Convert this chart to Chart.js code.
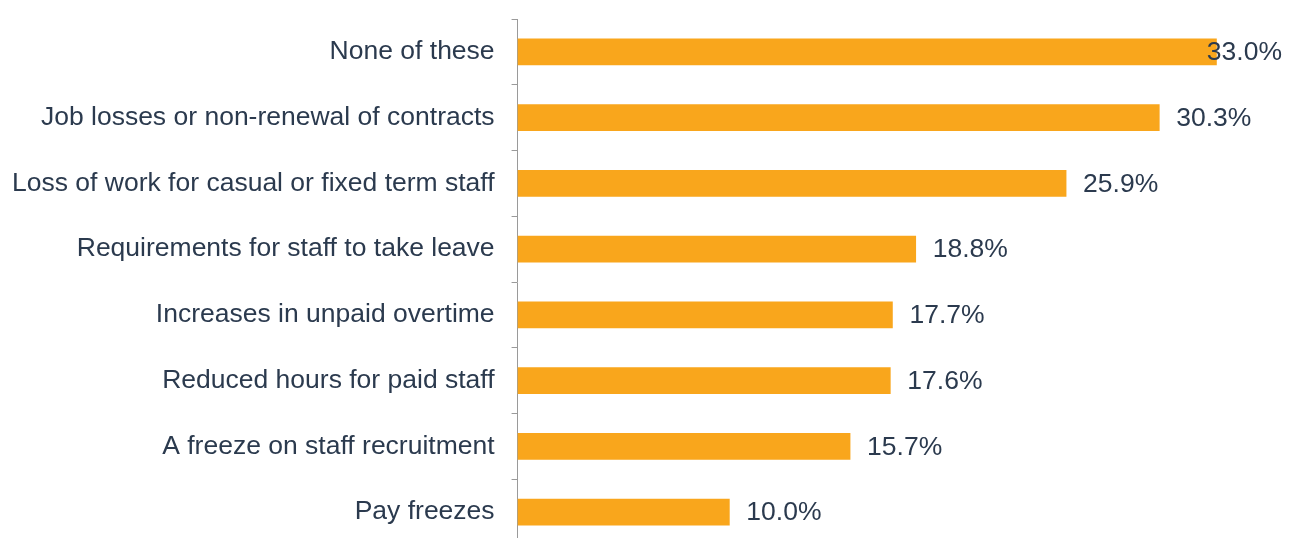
<!DOCTYPE html>
<html>
<head>
<meta charset="utf-8">
<script src="https://cdn.jsdelivr.net/npm/chart.js@4/dist/chart.umd.min.js"></script>
<style>
    html, body { margin: 0; padding: 0; background: #ffffff; overflow: hidden; }
    canvas { display: block; }
</style>
</head>
<body>
<canvas id="impactChart" width="1295" height="546"></canvas>
<script>
const categories = [
    'None of these',
    'Job losses or non-renewal of contracts',
    'Loss of work for casual or fixed term staff',
    'Requirements for staff to take leave',
    'Increases in unpaid overtime',
    'Reduced hours for paid staff',
    'A freeze on staff recruitment',
    'Pay freezes'
];
const shares = [33.0, 30.3, 25.9, 18.8, 17.7, 17.6, 15.7, 10.0];

const textColor = '#2b3a4e';
const barColor = '#f9a61c';
const fontFamily = '"Liberation Sans", Arial, sans-serif';

// writes "xx.x%" just past the end of each bar
const valueLabels = {
    id: 'valueLabels',
    afterDatasetsDraw(chart) {
        const ctx = chart.ctx;
        const meta = chart.getDatasetMeta(0);
        ctx.save();
        ctx.font = '26.5px ' + fontFamily;
        ctx.fillStyle = textColor;
        ctx.textBaseline = 'middle';
        meta.data.forEach((bar, i) => {
            const txt = shares[i].toFixed(1) + '%';
            const w = ctx.measureText(txt).width;
            let x = bar.x + 17;
            if (x + w > chart.width - 13) x = chart.width - 13 - w;
            ctx.fillText(txt, x, bar.y + 1);
        });
        ctx.restore();
    }
};

var ctx = document.getElementById('impactChart').getContext('2d');
var myChart = new Chart(ctx, {
    type: 'bar',
    data: {
        labels: categories,
        datasets: [{
            data: shares,
            backgroundColor: barColor,
            borderWidth: 0,
            barThickness: 26
        }]
    },
    options: {
        indexAxis: 'y',
        responsive: false,
        animation: false,
        layout: { padding: { top: 19, right: 15, bottom: 1, left: -5 } },
        scales: {
            x: {
                display: false,
                min: 0,
                max: 36
            },
            y: {
                // let the category bands run right to the top and bottom
                afterFit(scale) {
                    scale.paddingTop = 0;
                    scale.paddingBottom = 0;
                },
                border: { display: true, color: '#9a9a9a', width: 1 },
                grid: {
                    offset: true,
                    drawOnChartArea: false,
                    drawTicks: true,
                    tickLength: 6,
                    color: '#9a9a9a'
                },
                ticks: {
                    color: textColor,
                    padding: 17,
                    font: { family: fontFamily, size: 26.5 }
                }
            }
        },
        plugins: {
            legend: { display: false },
            tooltip: { enabled: false }
        }
    },
    plugins: [valueLabels]
});
</script>
</body>
</html>
